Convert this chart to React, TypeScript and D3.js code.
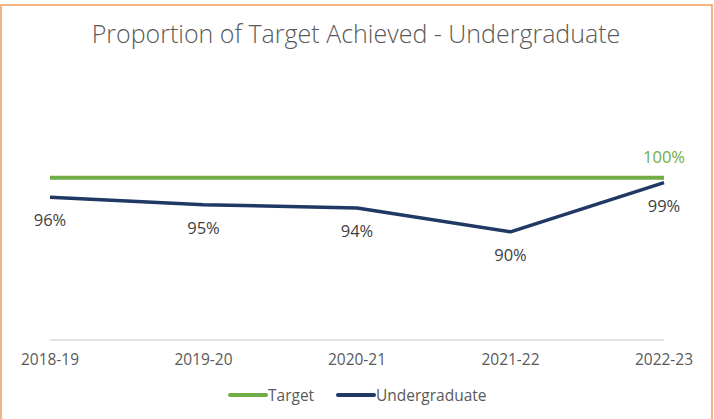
import * as d3 from 'd3';
import { useEffect, useRef } from 'react';

const width = 714;
const height = 419;

const years = ['2018-19', '2019-20', '2020-21', '2021-22', '2022-23'];
const targetValues = [1, 1, 1, 1, 1];
const undergradValues = [0.964, 0.95, 0.944, 0.9, 0.991];

const GREEN = '#70AD47';
const NAVY = '#1F3864';
const FONT = "'Open Sans', 'DejaVu Sans', sans-serif";

const App = () => {
  const svgRef = useRef<SVGSVGElement>(null);

  useEffect(() => {
    const svg = d3.select(svgRef.current);
    svg.selectAll('*').remove();

    svg
      .append('rect')
      .attr('x', 1)
      .attr('y', 5)
      .attr('width', width - 3)
      .attr('height', height + 10)
      .attr('fill', '#fff')
      .attr('stroke', '#F29A55')
      .attr('stroke-width', 1.5);

    svg
      .append('text')
      .attr('x', 356)
      .attr('y', 43)
      .attr('text-anchor', 'middle')
      .style('font-family', FONT)
      .style('font-size', '25px')
      .style('font-weight', 300)
      .style('fill', '#595959')
      .text('Proportion of Target Achieved - Undergraduate');

    const x = d3.scalePoint().domain(years).range([50, 664]);
    const y = d3.scaleLinear().domain([0.7, 1]).range([340, 177.7]);

    // category axis
    const axis = svg.append('g').attr('transform', 'translate(0,340)');
    axis
      .append('line')
      .attr('x1', 50)
      .attr('x2', 664)
      .attr('stroke', '#D9D9D9')
      .attr('stroke-width', 1.3);
    axis
      .selectAll('text')
      .data(years)
      .enter()
      .append('text')
      .attr('x', (d) => x(d)!)
      .attr('y', 25)
      .attr('text-anchor', 'middle')
      .style('font-family', FONT)
      .style('font-size', '15.5px')
      .style('fill', '#595959')
      .text((d) => d);

    const line = d3
      .line<number>()
      .x((_, i) => x(years[i])!)
      .y((d) => y(d));

    svg
      .append('path')
      .attr('d', line(targetValues))
      .attr('fill', 'none')
      .attr('stroke', GREEN)
      .attr('stroke-width', 4);

    svg
      .append('path')
      .attr('d', line(undergradValues))
      .attr('fill', 'none')
      .attr('stroke', NAVY)
      .attr('stroke-width', 3.5)
      .attr('stroke-linejoin', 'round');

    const pct = d3.format('.0%');

    // undergraduate labels below points
    svg
      .selectAll('text.ug')
      .data(undergradValues)
      .enter()
      .append('text')
      .attr('class', 'ug')
      .attr('x', (_, i) => x(years[i])!)
      .attr('y', (d) => y(d) + 29)
      .attr('text-anchor', 'middle')
      .style('font-family', FONT)
      .style('font-size', '16.5px')
      .style('fill', '#404040')
      .text((d) => pct(d));

    // target label only on last point
    const last = targetValues.length - 1;
    svg
      .append('text')
      .attr('x', x(years[last])!)
      .attr('y', y(targetValues[last]) - 15)
      .attr('text-anchor', 'middle')
      .style('font-family', FONT)
      .style('font-size', '16.5px')
      .style('fill', GREEN)
      .text(pct(targetValues[last]));

    // legend
    const legendItems = [
      { name: 'Target', color: GREEN, x: 230 },
      { name: 'Undergraduate', color: NAVY, x: 338 },
    ];
    const legend = svg
      .selectAll('g.legend')
      .data(legendItems)
      .enter()
      .append('g')
      .attr('class', 'legend')
      .attr('transform', (d) => `translate(${d.x},395)`);
    legend
      .append('line')
      .attr('x1', 0)
      .attr('x2', 36)
      .attr('stroke', (d) => d.color)
      .attr('stroke-width', 4)
      .attr('stroke-linecap', 'round');
    legend
      .append('text')
      .attr('x', 38)
      .attr('y', 6)
      .style('font-family', FONT)
      .style('font-size', '15.5px')
      .style('fill', '#595959')
      .text((d) => d.name);
  }, []);

  return (
    <div style={{ position: 'absolute', left: 0, top: 0 }}>
      <svg ref={svgRef} width={width} height={height} style={{ display: 'block' }}></svg>
    </div>
  );
};

export default App;
